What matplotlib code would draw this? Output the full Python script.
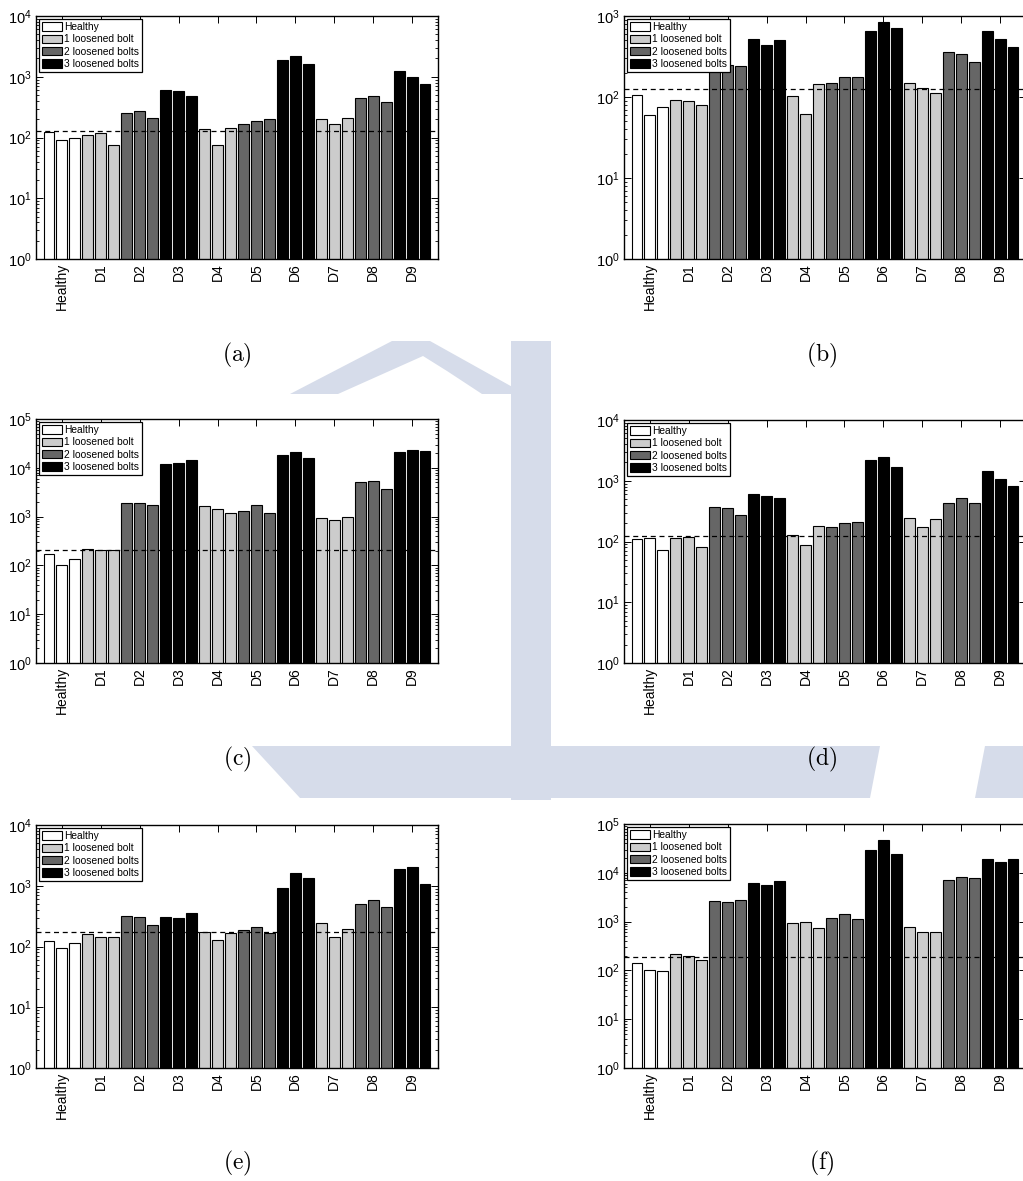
import numpy as np
import matplotlib
matplotlib.use('Agg')
import matplotlib.pyplot as plt
from matplotlib.patches import Patch, Polygon
from matplotlib.ticker import LogLocator, LogFormatterSciNotation, NullFormatter

plt.rcParams['font.family'] = ['Liberation Sans', 'DejaVu Sans']
plt.rcParams['mathtext.default'] = 'regular'

# Categories (3 repetitions per case)
groups = ['Healthy', 'D1', 'D2', 'D3', 'D4', 'D5', 'D6', 'D7', 'D8', 'D9']
n_loose = [0, 1, 2, 3, 1, 2, 3, 1, 2, 3]
legend_labels = ['Healthy', '1 loosened bolt', '2 loosened bolts', '3 loosened bolts']
fills = ['#ffffff', '#cccccc', '#666666', '#000000']

# Values, panel by panel
vals_a = [121, 92, 97, 108, 118, 74, 254, 268, 213, 615, 578, 484,
          139, 76, 146, 170, 190, 200, 1867, 2228, 1604,
          200, 164, 208, 455, 484, 391, 1231, 981, 763]
vals_b = [107, 60, 75, 91, 90, 79, 245, 245, 242, 521, 444, 501,
          103, 61, 143, 148, 175, 179, 660, 836, 719,
          151, 131, 111, 360, 343, 274, 654, 521, 415]
vals_c = [169, 100, 135, 217, 204, 210, 1871, 1901, 1757, 12160, 12540, 14220,
          1649, 1431, 1167, 1303, 1729, 1205, 17990, 20750, 15630,
          936, 838, 981, 5117, 5450, 3736, 21420, 23540, 22090]
vals_d = [109, 113, 73, 113, 119, 81, 367, 362, 268, 600, 563, 529,
          130, 89, 179, 176, 203, 211, 2173, 2465, 1667,
          242, 176, 233, 427, 515, 438, 1432, 1086, 833]
vals_e = [121, 96, 113, 160, 144, 141, 316, 305, 225, 308, 297, 350,
          172, 127, 170, 184, 208, 164, 927, 1637, 1355,
          242, 146, 196, 499, 573, 439, 1883, 2005, 1065]
vals_f = [139, 103, 98, 220, 194, 163, 2617, 2536, 2742, 6040, 5668, 6637,
          924, 984, 741, 1189, 1415, 1135, 28770, 46910, 24560,
          789, 604, 604, 7180, 8017, 7770, 18780, 16820, 19400]

panel_vals = [vals_a, vals_b, vals_c, vals_d, vals_e, vals_f]
thresholds = [128, 125, 204, 123, 173, 186]
y_tops = [1e4, 1e3, 1e5, 1e4, 1e4, 1e5]
captions = ['(a)', '(b)', '(c)', '(d)', '(e)', '(f)']

W, H = 1023, 1181
fig = plt.figure(figsize=(W / 100, H / 100), dpi=100)


def fxy(x, y):
    return (x / W, 1 - y / H)


# faint watermark seen between the panels
wm = '#d6dcea'
shapes = [
    [(290, 394), (392, 341), (430, 341), (525, 394)],
    [(511, 341), (551, 341), (551, 800), (511, 800)],
    [(252, 746), (880, 746), (870, 798), (300, 798)],
    [(985, 746), (1023, 746), (1023, 798), (975, 798)],
]
for pts in shapes:
    fig.patches.append(Polygon([fxy(*p) for p in pts], closed=True, transform=fig.transFigure,
                               facecolor=wm, edgecolor='none', zorder=0))
fig.patches.append(Polygon([fxy(*p) for p in [(338, 394), (423, 356), (447, 371), (482, 394)]],
                           closed=True, transform=fig.transFigure,
                           facecolor='white', edgecolor='none', zorder=0.1))

# axes boxes in pixels: left, top, right, bottom
boxes = [(36, 16, 438, 259), (624, 16, 1026, 259),
         (36, 419, 438, 663), (624, 420, 1026, 663),
         (36, 825, 438, 1068), (624, 824, 1026, 1068)]
cap_pos = [(237, 355), (822, 355), (237, 759), (822, 759), (237, 1163), (822, 1163)]

x = np.arange(1, 31)
bar_colors = [fills[n_loose[i // 3]] for i in range(30)]
handles = [Patch(facecolor=c, edgecolor='k', linewidth=0.8, label=l)
           for c, l in zip(fills, legend_labels)]

for k in range(6):
    l, t, r, b = boxes[k]
    ax = fig.add_axes([l / W, 1 - b / H, (r - l) / W, (b - t) / H])
    ax.bar(x, panel_vals[k], width=0.84, color=bar_colors, edgecolor='k', linewidth=0.8, zorder=1)
    ax.axhline(thresholds[k], color='k', linestyle=(0, (4, 3)), linewidth=0.9, zorder=3)
    ax.set_yscale('log')
    ax.set_ylim(1, y_tops[k])
    ax.set_xlim(0, 31)
    ax.yaxis.set_major_locator(LogLocator(base=10))
    ax.yaxis.set_major_formatter(LogFormatterSciNotation())
    ax.yaxis.set_minor_locator(LogLocator(base=10, subs=np.arange(2, 10)))
    ax.yaxis.set_minor_formatter(NullFormatter())
    ax.set_xticks(np.arange(2, 31, 3))
    ax.set_xticklabels(groups, rotation=90)
    ax.tick_params(which='both', direction='in', top=True, right=True, pad=3)
    ax.tick_params(axis='x', labelsize=10)
    ax.tick_params(axis='y', labelsize=10.5)
    ax.tick_params(which='major', length=5, width=0.7)
    ax.tick_params(which='minor', length=2.5, width=0.6)
    ax.set_axisbelow(True)
    for s in ax.spines.values():
        s.set_linewidth(1.0)
    leg = ax.legend(handles=handles, loc='upper left', fontsize=7.4, handlelength=1.9,
                    handleheight=0.9, labelspacing=0.22, handletextpad=0.2, borderpad=0.3,
                    borderaxespad=0.3, fancybox=False, framealpha=1, edgecolor='k')
    leg.get_frame().set_linewidth(0.9)
    cx, cy = cap_pos[k]
    fig.text(cx / W, 1 - cy / H, r'$\mathrm{' + captions[k] + '}$', math_fontfamily='cm',
             fontsize=17, ha='center', va='center')

fig.savefig('out.png', dpi=100)
